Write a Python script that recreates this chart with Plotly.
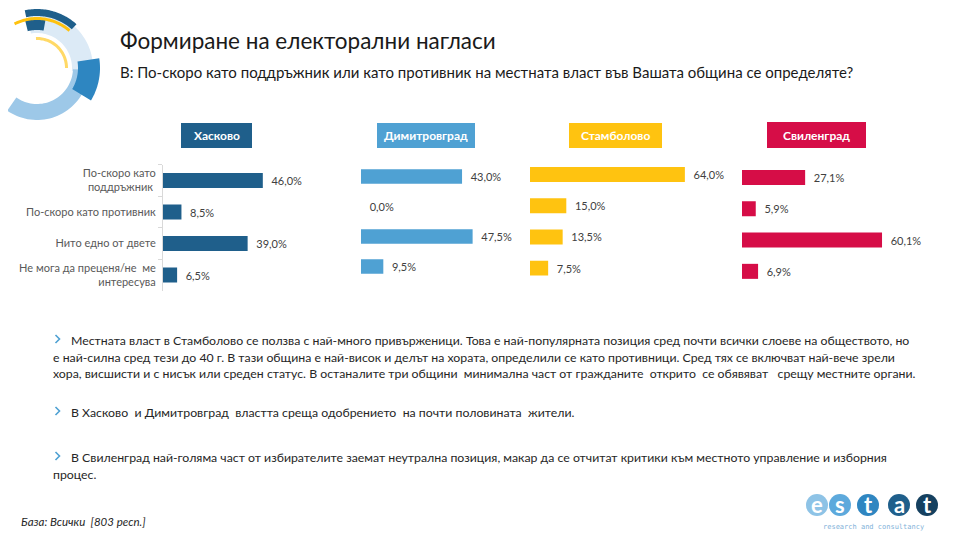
import math
import plotly.graph_objects as go

# page offset of the plot inside the html body (default body margin)
OFF = 8
W, H = 960 - OFF, 540 - OFF

# ---------------- data ----------------
categories = ["По-скоро като<br>поддръжник\u00a0", "По-скоро като противник",
              "Нито едно от двете", "Не мога да преценя/не\u00a0 ме<br>интересува"]
municipalities = ["Хасково", "Димитровград", "Стамболово", "Свиленград"]
haskovo = [46.0, 8.5, 39.0, 6.5]
dimitrovgrad = [43.0, 0.0, 47.5, 9.5]
stambolovo = [64.0, 15.0, 13.5, 7.5]
svilengrad = [27.1, 5.9, 60.1, 6.9]
series = [haskovo, dimitrovgrad, stambolovo, svilengrad]
colors = ["#1F5F8B", "#4FA1D3", "#FFC310", "#D60D47"]

title = "Формиране на електорални нагласи"
subtitle = "В: По-скоро като поддръжник или като противник на местната власт във Вашата община се определяте?"
para1 = ["Местната власт в Стамболово се ползва с най-много привърженици. Това е най-популярната позиция сред почти всички слоеве на обществото, но",
         "е най-силна сред тези до 40 г. В тази община е най-висок и делът на хората, определили се като противници. Сред тях се включват най-вече зрели",
         "хора, висшисти и с нисък или среден статус. В останалите три общини\u00a0 минимална част от гражданите\u00a0 открито\u00a0 се обявяват\u00a0\u00a0 срещу местните органи."]
para2 = ["В Хасково\u00a0 и Димитровград\u00a0 властта среща одобрението\u00a0 на почти половината\u00a0 жители."]
para3 = ["В Свиленград най-голяма част от избирателите заемат неутрална позиция, макар да се отчитат критики към местното управление и изборния",
         "процес."]
footer = "База: Всички\u00a0 [803 респ.]"

FONT = "Lato, 'Open Sans', sans-serif"


def fx(x):
    return (x - OFF) / W


def fy(y):
    return 1 - (y - OFF) / H


# panel geometry (page pixels): left start, px per %, band top, band bottom
panels = [
    dict(x0=163, scale=2.17, top=164.75, bot=290.75),
    dict(x0=361, scale=2.35, top=161.5, bot=281.5),
    dict(x0=530, scale=2.42, top=159.0, bot=283.7),
    dict(x0=742, scale=2.33, top=161.8, bot=287.0),
]
headers = [
    dict(x0=181, x1=252, y0=123, y1=148),
    dict(x0=377, x1=475, y0=123, y1=148),
    dict(x0=569, x1=662, y0=123, y1=148),
    dict(x0=767, x1=866, y0=122, y1=148),
]

fig = go.Figure()
layout = dict(
    width=W, height=H, autosize=False,
    margin=dict(l=0, r=0, t=0, b=0),
    paper_bgcolor="white", plot_bgcolor="rgba(0,0,0,0)",
    showlegend=False, separators=",.",
    font=dict(family=FONT, color="#404040"),
)

shapes = []
annotations = []

for i, (vals, col, p) in enumerate(zip(series, colors, panels)):
    xa = "x" if i == 0 else f"x{i+1}"
    ya = "y" if i == 0 else f"y{i+1}"
    fig.add_trace(go.Bar(
        x=vals, y=categories, orientation="h", xaxis=xa, yaxis=ya,
        marker=dict(color=col, line=dict(width=0)), width=0.48,
        texttemplate="\u00a0\u00a0%{x:.1f}%", textposition="outside",
        cliponaxis=False, constraintext="none",
        textfont=dict(size=11, color="#404040", family=FONT),
        hoverinfo="skip",
    ))
    wpx = 160
    layout["xaxis" if i == 0 else f"xaxis{i+1}"] = dict(
        domain=[fx(p["x0"]), fx(p["x0"] + wpx)], range=[0, wpx / p["scale"]],
        visible=False, fixedrange=True, anchor=ya,
    )
    first = i == 0
    layout["yaxis" if i == 0 else f"yaxis{i+1}"] = dict(
        domain=[fy(p["bot"]), fy(p["top"])], anchor=xa,
        type="category", categoryorder="array", categoryarray=categories,
        range=[3.5, -0.5], showgrid=False, zeroline=False,
        showticklabels=first, showline=first, linecolor="#D9D9D9", linewidth=1,
        ticks="outside" if first else "", tickson="boundaries", ticklen=4,
        tickcolor="#D9D9D9", ticklabelstandoff=4,
        tickfont=dict(size=11, color="#595959", family=FONT),
        fixedrange=True,
    )
    h = headers[i]
    shapes.append(dict(type="rect", xref="paper", yref="paper",
                       x0=fx(h["x0"]), x1=fx(h["x1"]), y0=fy(h["y1"]), y1=fy(h["y0"]),
                       fillcolor=col, line=dict(width=0), layer="below"))
    annotations.append(dict(x=fx((h["x0"] + h["x1"]) / 2), y=fy((h["y0"] + h["y1"]) / 2),
                            xref="paper", yref="paper", text=f"<b>{municipalities[i]}</b>",
                            showarrow=False, xanchor="center", yanchor="middle",
                            font=dict(size=12, color="white", family=FONT)))

# title / subtitle
annotations.append(dict(x=fx(118), y=fy(40), xref="paper", yref="paper", text=title,
                        showarrow=False, xanchor="left", yanchor="middle",
                        font=dict(size=22.5, color="#1A1A1A", family=FONT)))
annotations.append(dict(x=fx(118), y=fy(72), xref="paper", yref="paper", text=subtitle,
                        showarrow=False, xanchor="left", yanchor="middle",
                        font=dict(size=15, color="#1A1A1A", family=FONT)))

# paragraphs
TXT = dict(size=12.3, color="#262626", family=FONT)


def add_para(lines, ys):
    yb = ys[0] - 1
    d = f"M {fx(55.5):.5f},{fy(yb - 4):.5f} L {fx(59.5):.5f},{fy(yb):.5f} L {fx(55.5):.5f},{fy(yb + 4):.5f}"
    shapes.append(dict(type="path", xref="paper", yref="paper", path=d,
                       line=dict(color="#4FA1D3", width=1.6)))
    for j, (ln, yy) in enumerate(zip(lines, ys)):
        annotations.append(dict(x=fx(69 if j == 0 else 51), y=fy(yy), xref="paper", yref="paper",
                                text=ln, showarrow=False, xanchor="left", yanchor="middle",
                                font=TXT))


add_para(para1, [340, 357, 373])
add_para(para2, [412])
add_para(para3, [457, 474])

annotations.append(dict(x=fx(19), y=fy(521), xref="paper", yref="paper", text=f"<i>{footer}</i>",
                        showarrow=False, xanchor="left", yanchor="middle",
                        font=dict(size=11.5, color="#262626", family=FONT)))


# ---------------- top-left decorative logo ----------------
def arc(cx, cy, r0, r1, a0, a1, color, n=40):
    pts_out = []
    pts_in = []
    for k in range(n + 1):
        a = math.radians(a0 + (a1 - a0) * k / n)
        pts_out.append((cx + r1 * math.cos(a), cy - r1 * math.sin(a)))
        pts_in.append((cx + r0 * math.cos(a), cy - r0 * math.sin(a)))
    pts = pts_out + pts_in[::-1]
    d = "M " + " L ".join(f"{fx(x):.5f},{fy(y):.5f}" for x, y in pts) + " Z"
    return dict(type="path", xref="paper", yref="paper", path=d,
                fillcolor=color, line=dict(width=0), layer="above")


cx, cy = 37, 68
shapes += [
    arc(cx, cy, 35, 56, 100, -5, "#DCEAF6"),
    arc(cx, cy, 36, 52, -2, -125, "#9DC8E8"),
    arc(cx, cy, 41, 63, 9, -31, "#2E86C1"),
    arc(cx, cy, 52, 59, 102, 48, "#1F5F8B"),
    arc(cx, cy, 38, 50, 104, 80, "#1F5F8B"),
    arc(cx, cy, 48, 51, 117, 49, "#FFC20E"),
    arc(cx, cy, 28, 31, 92, 0, "#FFD966"),
]

# ---------------- bottom-right estat logo ----------------
logo_letters = ["e", "s", "t", "a", "t"]
logo_cols = ["#8EC3E6", "#5DA9DC", "#2F86C1", "#1F5F8B", "#15405F"]
logo_x = [817, 840, 868, 899, 927]
for L, c, x in zip(logo_letters, logo_cols, logo_x):
    shapes.append(dict(type="circle", xref="paper", yref="paper",
                       x0=fx(x - 11), x1=fx(x + 11), y0=fy(516), y1=fy(494),
                       fillcolor=c, line=dict(width=0)))
    annotations.append(dict(x=fx(x), y=fy(504), xref="paper", yref="paper", text=f"<b>{L}</b>",
                            showarrow=False, xanchor="center", yanchor="middle",
                            font=dict(size=22, color="white", family=FONT)))
annotations.append(dict(x=fx(873), y=fy(527), xref="paper", yref="paper",
                        text="research and consultancy", showarrow=False,
                        xanchor="center", yanchor="middle",
                        font=dict(size=7, color="#7FB2D9", family="DejaVu Sans Mono")))

layout["shapes"] = shapes
layout["annotations"] = annotations
fig.update_layout(**layout)
fig.write_html("out.html")
